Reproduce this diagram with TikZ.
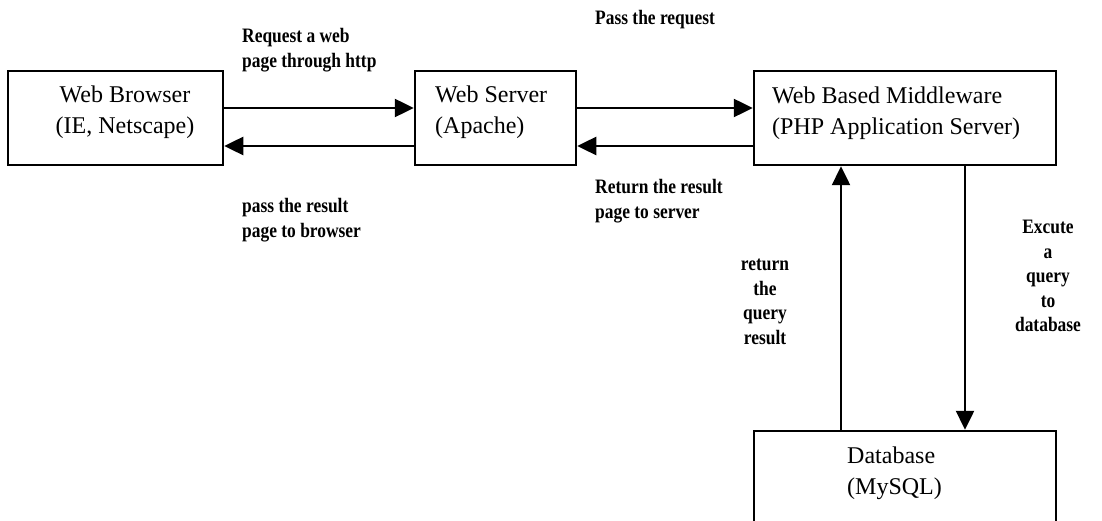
\documentclass[tikz,border=0pt]{standalone}
\usepackage{fontspec}
\setmainfont{Liberation Serif}
\newfontfamily\lblfont[FakeStretch=0.85]{Liberation Serif}
\usetikzlibrary{arrows.meta}
\begin{document}
\begin{tikzpicture}[x=1pt,y=-1pt,
  box/.style={draw, line width=2.5pt, inner sep=0pt},
  boxtext/.style={font=\fontsize{24}{31}\selectfont, inner sep=0pt},
  lbl/.style={font=\lblfont\bfseries\fontsize{20.5}{24.5}\selectfont, inner sep=0pt},
  arr/.style={line width=2.5pt, -{Triangle[length=19pt,width=18pt]}}]
\useasboundingbox (0,0) rectangle (1102,521);
% boxes
\node[box, minimum width=215pt, minimum height=94pt] (browser) at (115.5,118) {};
\node[box, minimum width=161pt, minimum height=94pt] (server) at (495.5,118) {};
\node[box, minimum width=302pt, minimum height=94pt] (mid) at (905,118) {};
\node[box, minimum width=302pt, minimum height=130pt] (db) at (905,496) {};
% box texts
\node[boxtext, align=center] (browsertext) at (125,112.5) {Web Browser\\(IE, Netscape)};
\node[boxtext, align=left, anchor=west] (servertext) at (435,112.5) {Web Server\\(Apache)};
\node[boxtext, align=left, anchor=west] (midtext) at (772,113) {Web Based Middleware\\(PHP Application Server)};
\node[boxtext, align=left, anchor=west] (dbtext) at (847,473) {Database\\(MySQL)};
% horizontal arrows
\draw[arr] ([yshift=10pt]browser.east) -- ([yshift=10pt]browser.east -| server.west);
\draw[arr] ([yshift=-28pt]server.west) -- ([yshift=-28pt]server.west -| browser.east);
\draw[arr] ([yshift=10pt]server.east) -- ([yshift=10pt]server.east -| mid.west);
\draw[arr] ([yshift=-28pt]mid.west) -- ([yshift=-28pt]mid.west -| server.east);
% vertical arrows
\draw[arr] ([xshift=-64pt]db.north) -- ([xshift=-64pt]db.north |- mid.south);
\draw[arr] ([xshift=60pt]mid.south) -- ([xshift=60pt]mid.south |- db.north);
% labels
\node[lbl, align=left, anchor=west] (l1) at (242,50) {Request a web\\page through http};
\node[lbl, align=left, anchor=west] (l2) at (242,220) {pass the result\\page to browser};
\node[lbl, anchor=west] (l3) at (595,20) {Pass the request};
\node[lbl, align=left, anchor=west] (l4) at (595,201) {Return the result\\page to server};
\node[lbl, align=center] (l5) at (765,302) {return\\the\\query\\result};
\node[lbl, align=center] (l6) at (1048,276) {Excute\\a\\query\\to\\database};
\end{tikzpicture}
\end{document}
